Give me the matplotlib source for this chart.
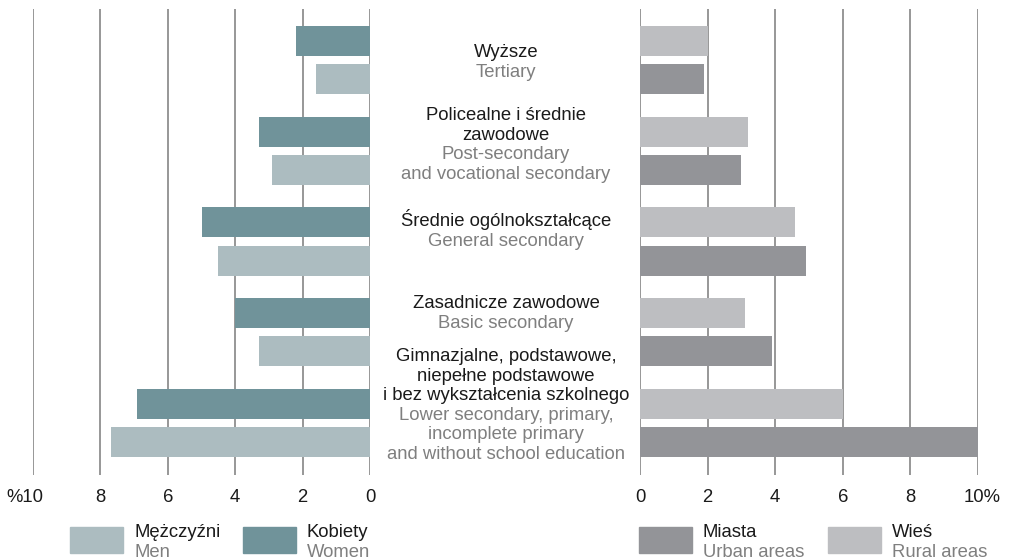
import numpy as np
import matplotlib.pyplot as plt
from matplotlib.patches import Rectangle
from matplotlib.transforms import ScaledTranslation

plt.rcParams['font.family'] = ['Liberation Sans', 'DejaVu Sans']

# dane
kategorie_pl = ["Wyższe",
                "Policealne i średnie\nzawodowe",
                "Średnie ogólnokształcące",
                "Zasadnicze zawodowe",
                "Gimnazjalne, podstawowe,\nniepełne podstawowe\ni bez wykształcenia szkolnego"]
kategorie_en = ["Tertiary",
                "Post-secondary\nand vocational secondary",
                "General secondary",
                "Basic secondary",
                "Lower secondary, primary,\nincomplete primary\nand without school education"]
kobiety = [2.2, 3.3, 5.0, 4.0, 6.9]
mezczyzni = [1.6, 2.9, 4.5, 3.3, 7.7]
wies = [2.0, 3.2, 4.6, 3.1, 6.0]
miasta = [1.9, 3.0, 4.9, 3.9, 10.0]
ticks = [0, 2, 4, 6, 8, 10]
ticks_lewe = ["0", "2", "4", "6", "8", "%10"]
ticks_prawe = ["0", "2", "4", "6", "8", "10%"]

c_kob = "#70939a"
c_mez = "#acbcc0"
c_mia = "#939498"
c_wie = "#bdbec1"
c_siatka = "#8f8f8f"
c_szary = "#7f7f7f"
c_czarny = "#1a1a1a"
fs = 13.3

W, H = 1011, 560
fig = plt.figure(figsize=(W / 100, H / 100), dpi=100)


def px(x0, y0, x1, y1):
    return [x0 / W, 1 - y1 / H, (x1 - x0) / W, (y1 - y0) / H]


y = np.arange(len(kobiety))
h = 0.33
off = 0.21


def przygotuj(ax, labels, przes):
    ax.set_xlim(0, 10)
    ax.set_ylim(4.57, -0.56)
    ax.set_xticks(ticks)
    ax.set_xticklabels(labels)
    ax.tick_params(axis='x', length=0, pad=10, labelsize=fs, colors=c_czarny)
    ax.tick_params(axis='y', left=False, labelleft=False)
    ax.grid(axis='x', color=c_siatka, linewidth=1.3)
    ax.set_axisbelow(True)
    for s in ax.spines.values():
        s.set_visible(False)
    # etykieta z % przesunieta jak w oryginale
    lab = ax.get_xticklabels()[-1]
    lab.set_transform(lab.get_transform() + ScaledTranslation(przes / 100, 0, fig.dpi_scale_trans))


ax1 = fig.add_axes(px(33, 9, 370, 475))
ax1.barh(y - off, kobiety, height=h, color=c_kob)
ax1.barh(y + off, mezczyzni, height=h, color=c_mez)
przygotuj(ax1, ticks_lewe, -8)
ax1.invert_xaxis()

ax2 = fig.add_axes(px(640, 9, 978, 475))
ax2.barh(y - off, wies, height=h, color=c_wie)
ax2.barh(y + off, miasta, height=h, color=c_mia)
przygotuj(ax2, ticks_prawe, 4)

# podpisy kategorii w srodku (linia bazowa pierwszego wiersza, px od gory)
lh = 19.6
start_y = [57, 120, 226, 308, 361]
xc = 506
for i in range(len(kategorie_pl)):
    wiersze = [(t, c_czarny) for t in kategorie_pl[i].split("\n")]
    wiersze += [(t, c_szary) for t in kategorie_en[i].split("\n")]
    for j, (t, kol) in enumerate(wiersze):
        fig.text(xc / W, 1 - (start_y[i] + j * lh) / H, t, ha='center',
                 va='baseline', fontsize=fs, color=kol)

# legenda
leg = [(70, c_mez, "Mężczyźni", "Men"),
       (243, c_kob, "Kobiety", "Women"),
       (639, c_mia, "Miasta", "Urban areas"),
       (828, c_wie, "Wieś", "Rural areas")]
for x0, kol, pl, en in leg:
    fig.add_artist(Rectangle((x0 / W, 1 - 553 / H), 53 / W, 26 / H,
                             transform=fig.transFigure, color=kol))
    fig.text((x0 + 64) / W, 1 - 537 / H, pl, ha='left', va='baseline',
             fontsize=fs, color=c_czarny)
    fig.text((x0 + 64) / W, 1 - 557 / H, en, ha='left', va='baseline',
             fontsize=fs, color=c_szary)

plt.savefig("out.png", dpi=100)
